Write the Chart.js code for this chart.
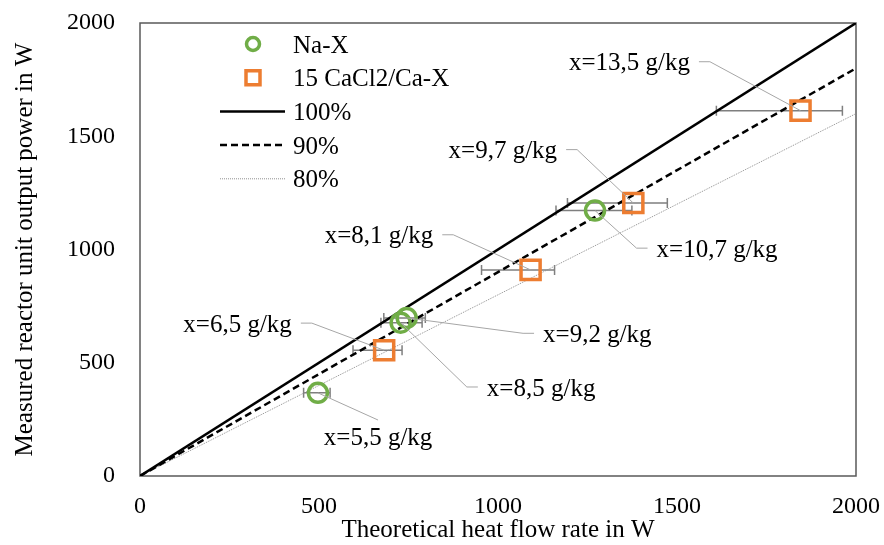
<!DOCTYPE html>
<html>
<head>
<meta charset="utf-8">
<script src="https://cdn.jsdelivr.net/npm/chart.js@4.4.1/dist/chart.umd.min.js"></script>
<style>
  html, body { margin: 0; padding: 0; background: #fff; }
  #wrap { width: 884px; height: 545px; }
</style>
</head>
<body>
<div id="wrap"><canvas id="c" width="884" height="545"></canvas></div>
<script>
// measured points (theoretical W, measured W)
const naX = [497, 728, 745, 1271];
const naY = [367, 677, 698, 1172];
const naErrMinus = [40, 55, 64, 109];
const naErrPlus = [34, 60, 52, 103];
const naNotes = ['x=5,5 g/kg', 'x=8,5 g/kg', 'x=9,2 g/kg', 'x=10,7 g/kg'];

const caX = [682, 1091, 1378, 1845];
const caY = [555, 910, 1205, 1613];
const caErrMinus = [87, 137, 184, 235];
const caErrPlus = [50, 67, 95, 117];
const caNotes = ['x=6,5 g/kg', 'x=8,1 g/kg', 'x=9,7 g/kg', 'x=13,5 g/kg'];

// where each leader line bends (data units) and which side the text sits
const naNoteX = [665, 913, 1070, 1387];
const naNoteY = [247, 393, 630, 1006];
const naNoteSide = ['below', 'right', 'right', 'right'];
const caNoteX = [480, 875, 1221, 1592];
const caNoteY = [675, 1065, 1441, 1829];
const caNoteSide = ['left', 'left', 'left', 'left'];

const refLabels = ['100%', '90%', '80%'];
const refFactors = [1.0, 0.9, 0.8];
const axisMax = 2000;
const tickStep = 500;

const FONT = 'Liberation Serif, Times New Roman, serif';
const GREEN = '#70AD47';
const ORANGE = '#ED7D31';

const pts = (xs, ys) => xs.map((x, i) => ({ x, y: ys[i] }));

const refStyles = [
  { borderColor: '#000', borderWidth: 2.5, borderDash: [] },
  { borderColor: '#000', borderWidth: 2.5, borderDash: [7, 4] },
  { borderColor: '#8f8f8f', borderWidth: 1, borderDash: [1, 1] },
];

const datasets = [
  {
    label: 'Na-X', data: pts(naX, naY), showLine: false,
    pointStyle: 'circle', pointRadius: 9.5, pointHoverRadius: 9.5,
    borderColor: GREEN, backgroundColor: 'rgba(0,0,0,0)', pointBorderWidth: 3.5,
    errMinus: naErrMinus, errPlus: naErrPlus,
    notes: naNotes, noteX: naNoteX, noteY: naNoteY, noteSide: naNoteSide,
  },
  {
    label: '15 CaCl2/Ca-X', data: pts(caX, caY), showLine: false,
    pointStyle: 'rect', pointRadius: 13.5, pointHoverRadius: 13.5,
    borderColor: ORANGE, backgroundColor: 'rgba(0,0,0,0)', pointBorderWidth: 3.5,
    errMinus: caErrMinus, errPlus: caErrPlus,
    notes: caNotes, noteX: caNoteX, noteY: caNoteY, noteSide: caNoteSide,
  },
  ...refLabels.map((lab, i) => ({
    label: lab,
    data: [{ x: 0, y: 0 }, { x: axisMax, y: axisMax * refFactors[i] }],
    showLine: true, pointRadius: 0, fill: false,
    ...refStyles[i],
  })),
];

// plot frame + horizontal error bars, under the markers
const errorBars = {
  id: 'errorBars',
  beforeDatasetsDraw(chart) {
    const { ctx, chartArea: a, scales: { x, y } } = chart;
    ctx.save();
    ctx.strokeStyle = '#595959';
    ctx.lineWidth = 1.5;
    ctx.strokeRect(a.left, a.top, a.right - a.left, a.bottom - a.top);

    ctx.strokeStyle = '#7f7f7f';
    ctx.lineWidth = 1.5;
    chart.data.datasets.forEach(ds => {
      if (!ds.errMinus) return;
      ds.data.forEach((p, i) => {
        const py = y.getPixelForValue(p.y);
        const x0 = x.getPixelForValue(p.x - ds.errMinus[i]);
        const x1 = x.getPixelForValue(p.x + ds.errPlus[i]);
        ctx.beginPath();
        ctx.moveTo(x0, py); ctx.lineTo(x1, py);
        ctx.moveTo(x0, py - 5); ctx.lineTo(x0, py + 5);
        ctx.moveTo(x1, py - 5); ctx.lineTo(x1, py + 5);
        ctx.stroke();
      });
    });
    ctx.restore();
  },
};

// leader lines with humidity labels
const notes = {
  id: 'notes',
  afterDatasetsDraw(chart) {
    const { ctx, scales: { x, y } } = chart;
    ctx.save();
    ctx.font = '25px ' + FONT;
    ctx.fillStyle = '#000';
    ctx.strokeStyle = '#a6a6a6';
    ctx.lineWidth = 1;
    chart.data.datasets.forEach(ds => {
      if (!ds.notes) return;
      ds.data.forEach((p, i) => {
        const px = x.getPixelForValue(p.x), py = y.getPixelForValue(p.y);
        const ex = x.getPixelForValue(ds.noteX[i]), ey = y.getPixelForValue(ds.noteY[i]);
        const side = ds.noteSide[i];
        ctx.beginPath();
        ctx.moveTo(px, py);
        ctx.lineTo(ex, ey);
        if (side === 'left') ctx.lineTo(ex - 11, ey);
        if (side === 'right') ctx.lineTo(ex + 11, ey);
        ctx.stroke();
        ctx.textBaseline = 'middle';
        if (side === 'left') {
          ctx.textAlign = 'right';
          ctx.fillText(ds.notes[i], ex - 20, ey + 2);
        } else if (side === 'right') {
          ctx.textAlign = 'left';
          ctx.fillText(ds.notes[i], ex + 20, ey + 2);
        } else {
          ctx.textAlign = 'center';
          ctx.fillText(ds.notes[i], ex, ey + 18);
        }
      });
    });
    ctx.restore();
  },
};

// legend inside the plot, upper left
const insideLegend = {
  id: 'insideLegend',
  afterDraw(chart) {
    const { ctx, chartArea: a } = chart;
    const mx = a.left + 113, lx0 = a.left + 80, lx1 = a.left + 145, tx = a.left + 153;
    let yy = a.top + 21;
    ctx.save();
    ctx.font = '25px ' + FONT;
    ctx.textAlign = 'left';
    ctx.textBaseline = 'middle';
    chart.data.datasets.forEach(ds => {
      ctx.setLineDash([]);
      if (ds.showLine) {
        ctx.strokeStyle = ds.borderColor;
        ctx.lineWidth = ds.borderWidth;
        ctx.setLineDash(ds.borderDash || []);
        ctx.beginPath();
        ctx.moveTo(lx0, yy); ctx.lineTo(lx1, yy);
        ctx.stroke();
        ctx.setLineDash([]);
      } else {
        ctx.strokeStyle = ds.borderColor;
        ctx.lineWidth = 3.5;
        ctx.beginPath();
        if (ds.pointStyle === 'circle') ctx.arc(mx, yy, 6.5, 0, Math.PI * 2);
        else ctx.rect(mx - 7, yy - 7, 14, 14);
        ctx.stroke();
      }
      ctx.fillStyle = '#000';
      ctx.fillText(ds.label, tx, yy + 2);
      yy += 33.7;
    });
    ctx.restore();
  },
};

const tickFont = { family: FONT, size: 24 };
const titleFont = { family: FONT, size: 25 };
const plainTick = v => String(v);

new Chart(document.getElementById('c'), {
  type: 'scatter',
  data: { datasets },
  options: {
    responsive: false,
    animation: false,
    events: [],
    layout: { padding: { top: 23, right: 28, left: 0, bottom: 0 } },
    plugins: { legend: { display: false }, tooltip: { enabled: false } },
    scales: {
      x: {
        type: 'linear', min: 0, max: axisMax,
        ticks: { stepSize: tickStep, font: tickFont, color: '#000', padding: 16, callback: plainTick },
        grid: { display: false, drawTicks: false },
        border: { display: false },
        title: { display: true, text: 'Theoretical heat flow rate in W', font: titleFont, color: '#000', padding: { top: 0, bottom: 0 } },
        afterFit(s) { s.height = 69; s.paddingLeft = 0; s.paddingRight = 0; },
      },
      y: {
        type: 'linear', min: 0, max: axisMax,
        ticks: { stepSize: tickStep, font: tickFont, color: '#000', padding: 25, callback: plainTick },
        grid: { display: false, drawTicks: false },
        border: { display: false },
        title: { display: true, text: 'Measured reactor unit output power in W', font: titleFont, color: '#000', padding: { top: 10, bottom: 0 } },
        afterFit(s) { s.width = 140; s.paddingTop = 0; s.paddingBottom = 0; },
      },
    },
  },
  plugins: [errorBars, notes, insideLegend],
});
</script>
</body>
</html>
